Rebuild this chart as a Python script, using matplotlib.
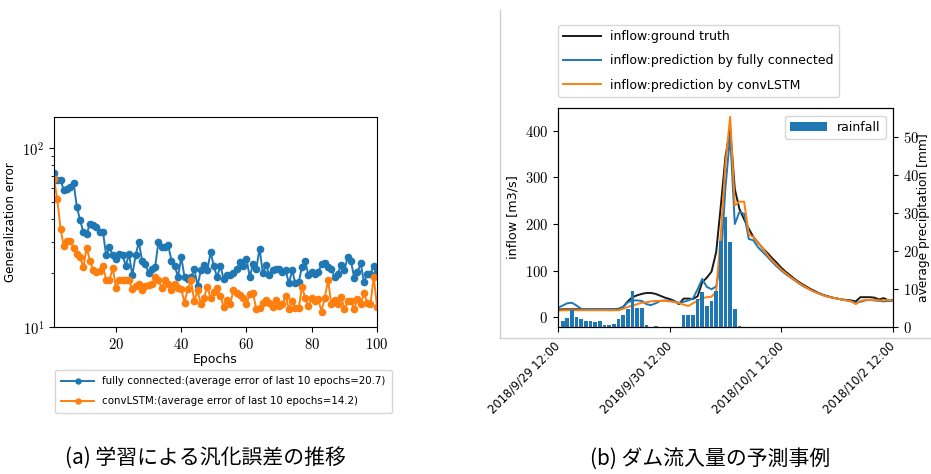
import numpy as np
import pandas as pd
import matplotlib
matplotlib.use("Agg")
import matplotlib.pyplot as plt
from matplotlib.ticker import FuncFormatter, NullFormatter, FixedLocator
from matplotlib.lines import Line2D

plt.rcParams["mathtext.fontset"] = "cm"
plt.rcParams["font.family"] = ["DejaVu Sans"]

# ---- (a) generalization error per epoch ----
epochs = np.arange(1, 101)
err_fc = [72.3, 66.3, 66.3, 58.3, 58.8, 60.3, 64.1, 46.9, 39.5, 34.0,
          32.9, 37.8, 37.0, 36.2, 34.0, 34.0, 25.1, 28.0, 25.1, 24.0,
          25.6, 25.1, 22.0, 25.6, 19.4, 25.1, 29.8, 23.5, 22.5, 20.0,
          21.1, 21.6, 29.8, 28.0, 28.0, 28.6, 23.5, 22.0, 19.0, 24.6,
          19.0, 18.5, 19.0, 21.1, 17.0, 20.7, 22.3, 20.7, 26.2, 21.8,
          19.0, 22.0, 18.5, 19.4, 19.6, 20.0, 21.1, 23.0, 22.0, 24.0,
          19.0, 22.5, 21.1, 27.4, 20.0, 22.3, 19.4, 20.7, 21.1, 21.1,
          20.2, 20.8, 17.5, 20.7, 17.5, 17.8, 21.6, 23.3, 19.4, 20.2,
          19.8, 20.2, 22.5, 22.7, 21.6, 21.1, 19.0, 19.8, 22.3, 20.7,
          24.6, 23.5, 18.8, 20.2, 22.7, 17.8, 19.8, 19.8, 22.0, 20.2]
err_lstm = [66.9, 51.6, 35.5, 28.2, 30.2, 30.2, 27.7, 25.6, 24.6, 21.6,
            27.7, 23.5, 20.7, 20.2, 20.5, 22.0, 18.2, 18.2, 21.4, 16.5,
            18.3, 18.3, 18.3, 18.2, 16.3, 17.0, 17.4, 16.0, 17.0, 17.2,
            17.4, 19.0, 18.2, 16.6, 18.2, 17.4, 16.0, 17.4, 16.6, 16.3,
            13.7, 16.3, 18.2, 13.9, 16.0, 13.4, 14.6, 16.8, 14.5, 15.6,
            16.6, 14.9, 13.0, 14.1, 13.5, 16.0, 15.4, 15.1, 14.6, 13.4,
            15.3, 15.4, 12.6, 12.8, 13.7, 14.1, 13.7, 13.0, 14.1, 13.1,
            13.4, 14.9, 12.6, 14.0, 12.7, 12.7, 16.8, 14.5, 13.1, 14.5,
            14.0, 14.3, 12.2, 14.6, 18.2, 13.5, 14.1, 13.5, 14.8, 12.6,
            13.9, 13.9, 12.6, 14.3, 13.4, 15.4, 13.7, 13.5, 19.0, 13.0]
label_fc = "fully connected:(average error of last 10 epochs=20.7)"
label_lstm = "convLSTM:(average error of last 10 epochs=14.2)"

# ---- (b) dam inflow, hourly from 2018/9/29 12:00 ----
times = pd.date_range("2018-09-29 12:00", periods=73, freq="h")
inflow_true = [16, 17, 17, 17, 17, 17, 17, 17, 17, 17,
               17, 17, 17, 18, 22, 34, 43, 47, 50, 52,
               52, 50, 46, 42, 39, 35, 28, 40, 40, 39,
               45, 75, 85, 98, 140, 240, 345, 405, 275, 232,
               210, 190, 172, 160, 148, 138, 127, 117, 106, 97,
               89, 81, 74, 68, 62, 57, 52, 48, 45, 42,
               40, 38, 37, 36, 34, 43, 43, 43, 42, 38,
               41, 36, 37]
inflow_fc = [20, 25, 30, 31, 25, 18, 17, 17, 17, 17,
             17, 17, 17, 17, 22, 32, 36, 36, 35, 28,
             26, 30, 35, 36, 35, 33, 31, 33, 36, 40,
             60, 82, 65, 60, 66, 120, 280, 390, 200, 226,
             222, 168, 165, 150, 140, 130, 119, 109, 100, 92,
             85, 78, 71, 65, 60, 55, 51, 47, 44, 42,
             40, 38, 36, 34, 31, 33, 36, 37, 36, 35,
             34, 35, 35]
inflow_lstm = [14, 15, 15, 15, 15, 15, 15, 15, 15, 15,
               15, 15, 15, 15, 18, 22, 25, 28, 31, 32,
               34, 35, 35, 35, 34, 33, 30, 27, 24, 30,
               36, 41, 43, 44, 55, 180, 330, 430, 240, 248,
               248, 178, 172, 160, 148, 134, 122, 112, 102, 94,
               86, 79, 72, 66, 60, 55, 51, 47, 44, 42,
               40, 38, 36, 34, 28, 35, 37, 37, 37, 36,
               36, 37, 36]
rain_times = pd.date_range("2018-09-29 13:00", periods=72, freq="h")
rainfall = [1.7, 2.4, 4.4, 2.6, 2.1, 1.7, 1.7, 1.3, 1.6, 0.6,
            0.6, 0.9, 2.1, 3.1, 4.7, 9.4, 4.9, 4.9, 0.4, 0.0,
            0.3, 0.0, 0.0, 0.0, 0.0, 0.0, 3.2, 3.2, 3.1, 7.3,
            9.1, 5.6, 6.7, 9.4, 22.5, 29.0, 22.2, 4.8, 0.35, 0.0,
            0.0, 0.0, 0.0, 0.0, 0.0, 0.0, 0.0, 0.0, 0.0, 0.0,
            0.0, 0.0, 0.0, 0.0, 0.0, 0.0, 0.0, 0.0, 0.0, 0.0,
            0.0, 0.0, 0.0, 0.0, 0.0, 0.0, 0.0, 0.0, 0.0, 0.0,
            0.0, 0.0]
date_ticks = pd.to_datetime(["2018-09-29 12:00", "2018-09-30 12:00",
                             "2018-10-01 12:00", "2018-10-02 12:00"])
date_labels = ["2018/9/29 12:00", "2018/9/30 12:00",
               "2018/10/1 12:00", "2018/10/2 12:00"]

captions = ["(a) 学習による汎化誤差の推移", "(b) ダム流入量の予測事例"]

W, H = 931, 474
fig = plt.figure(figsize=(W / 100, H / 100), dpi=100)

def fx(px):
    return px / W

def fy(py):
    return 1 - py / H

num = FuncFormatter(lambda v, p: r"$%d$" % round(v))

# left panel
ax1 = fig.add_axes([fx(54), fy(327), fx(323), 210 / H])
ax1.plot(epochs, err_fc, "o-", color="#1f77b4", ms=4.5, lw=1.4, label=label_fc)
ax1.plot(epochs, err_lstm, "o-", color="#ff7f0e", ms=4.5, lw=1.4, label=label_lstm)
ax1.set_yscale("log")
ax1.set_ylim(10, 149)
ax1.set_xlim(1, 100)
ax1.xaxis.set_major_locator(FixedLocator([20, 40, 60, 80, 100]))
ax1.xaxis.set_major_formatter(num)
ax1.yaxis.set_major_formatter(FuncFormatter(lambda v, p: r"$10^{%d}$" % round(np.log10(v))))
ax1.yaxis.set_minor_formatter(NullFormatter())
ax1.tick_params(labelsize=10.5)
ax1.set_xlabel("Epochs", fontsize=9, labelpad=1)
ax1.set_ylabel("Generalization error", fontsize=8.6)
h1, l1 = ax1.get_legend_handles_labels()
fig.legend(h1, l1, loc="upper left", bbox_to_anchor=(fx(55), fy(370)),
           borderaxespad=0, fontsize=7.4, handlelength=3.2, labelspacing=1.0,
           markerscale=0.8, borderpad=0.6)

# right panel
ax2 = fig.add_axes([fx(558), fy(327), fx(335), 219 / H])
ax3 = ax2.twinx()
ax2.plot(times, inflow_true, color="#1a1a1a", lw=1.4, label="inflow:ground truth")
ax2.plot(times, inflow_fc, color="#1f77b4", lw=1.4, label="inflow:prediction by fully connected")
ax2.plot(times, inflow_lstm, color="#ff7f0e", lw=1.4, label="inflow:prediction by convLSTM")
ax3.bar(rain_times, rainfall, width=0.8 / 24, color="#1f77b4", label="rainfall")
ax2.set_xlim(date_ticks[0], date_ticks[-1])
ax2.set_ylim(-21, 449)
ax3.set_ylim(0, 57.5)
ax2.set_xticks(date_ticks)
ax2.set_xticklabels(date_labels, rotation=45, ha="right", va="center",
                    rotation_mode="anchor", fontsize=8.3)
ax2.tick_params(axis="x", pad=9)
ax2.yaxis.set_major_locator(FixedLocator([0, 100, 200, 300, 400]))
ax2.yaxis.set_major_formatter(num)
ax3.yaxis.set_major_locator(FixedLocator([0, 10, 20, 30, 40, 50]))
ax3.yaxis.set_major_formatter(num)
ax2.tick_params(axis="y", labelsize=10.5)
ax3.tick_params(axis="y", labelsize=10.5)
ax2.set_ylabel("inflow [m3/s]", fontsize=9.2)
ax3.set_ylabel("average precipitation [mm]", fontsize=8.8)
ax3.yaxis.set_label_coords(1.072, 0.5)
h2, l2 = ax2.get_legend_handles_labels()
fig.legend(h2, l2, loc="upper left", bbox_to_anchor=(fx(558), fy(25)),
           borderaxespad=0, fontsize=9, handlelength=3, labelspacing=0.9)
ax3.legend(loc="upper right", fontsize=9, borderaxespad=0.6, handlelength=3)

# frame of the embedded right-hand figure
fig.add_artist(Line2D([fx(500), fx(500)], [fy(10), fy(338)], color="#d0d0d0", lw=1))
fig.add_artist(Line2D([fx(500), 1], [fy(338), fy(338)], color="#d0d0d0", lw=1))

cjk = ["Noto Sans CJK JP", "DejaVu Sans"]
fig.text(fx(205), fy(459), captions[0], ha="center", va="center", fontsize=15, family=cjk)
fig.text(fx(710), fy(459), captions[1], ha="center", va="center", fontsize=15, family=cjk)

fig.savefig("out.png", dpi=100)
